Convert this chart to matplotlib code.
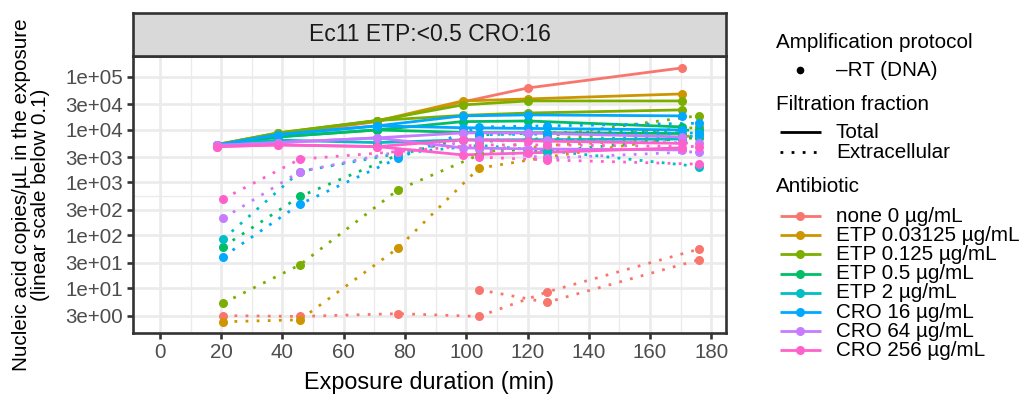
import numpy as np
import matplotlib
matplotlib.use("Agg")
import matplotlib.pyplot as plt
from matplotlib.lines import Line2D

plt.rcParams['font.family'] = ['Liberation Sans', 'DejaVu Sans']

nan = np.nan

# ---------------------------------------------------------------------------
# Data
antibiotics = ["none 0 µg/mL", "ETP 0.03125 µg/mL", "ETP 0.125 µg/mL", "ETP 0.5 µg/mL",
               "ETP 2 µg/mL", "CRO 16 µg/mL", "CRO 64 µg/mL", "CRO 256 µg/mL"]
colors = ["#F8766D", "#CD9600", "#7CAE00", "#00BE67", "#00BFC4", "#00A9FF", "#C77CFF", "#FF61CC"]

time_total = [18.7, 38.5, 70.9, 98.8, 120.1, 170.3]
time_extra = [20.7, 45.7, 77.7, 104.1, 126.3, 176.0]

# Total fraction, two replicate series per antibiotic
total_rep1 = [
    [5100, 8000, 14100, 33200, 61100, 146000],
    [5100, 8300, 14500, 34700, 37900, 47100],
    [5200, 8600, 14800, 29200, 34700, 34700],
    [4900, 7250, 9820, 14100, 14500, 11200],
    [4900, 6300, 5650, 6360, 6400, 6600],
    [5100, 8000, 11700, 18100, 18900, 18100],
    [5000, 5650, 6940, 8620, 8620, 7250],
    [4750, 5110, 4750, 6360, 6100, 5460],
]
total_rep2 = [
    [nan, nan, nan, nan, nan, nan],
    [nan, nan, nan, nan, nan, nan],
    [5200, 8600, 14800, 18500, 20500, 23500],
    [4900, 7250, 9820, 8800, 8700, 8400],
    [nan, nan, nan, nan, nan, nan],
    [5100, 8000, 11700, 10800, 10500, 9820],
    [5000, 5650, 6940, 4490, 4300, 4110],
    [4750, 5110, 4750, 3310, 3600, 4500],
]

# Extracellular fraction, two replicate series per antibiotic
extra_rep1 = [
    [3.0, 2.9, 3.27, 2.9, 8.4, 54.6],
    [2.3, 2.5, 57.0, 1850, 3000, 8000],
    [5.2, 27.5, 721, 3300, 7500, 18300],
    [61, 540, 3300, 7900, 8620, 9820],
    [85, 1600, 3500, 5000, 4000, 1990],
    [39.5, 387, 2870, 11200, 11700, 13150],
    [210, 1600, 3800, 6360, 6360, 5500],
    [488, 2750, 3820, 5110, 5110, 4750],
]
extra_rep2 = [
    [nan, nan, nan, 9.3, 5.35, 34.3],
    [nan, nan, nan, 3310, 5000, 7000],
    [nan, nan, nan, 6000, 6500, 11000],
    [nan, nan, nan, 4500, 3820, 7250],
    [nan, nan, nan, 6000, 6360, 7500],
    [nan, nan, nan, 8000, 8200, 8600],
    [nan, nan, nan, 4200, 2870, 3820],
    [nan, nan, nan, 3000, 2660, 2210],
]

y_breaks = [3, 10, 30, 100, 300, 1e3, 3e3, 1e4, 3e4, 1e5]
y_labels = ["3e+00", "1e+01", "3e+01", "1e+02", "3e+02", "1e+03", "3e+03", "1e+04", "3e+04", "1e+05"]
x_breaks = list(range(0, 181, 20))


# pseudo-log transform, linear below 0.1
def fwd(v):
    return np.arcsinh(np.asarray(v, dtype=float) / 0.2) / np.log(10)


def inv(t):
    return 0.2 * np.sinh(np.asarray(t, dtype=float) * np.log(10))


# ---------------------------------------------------------------------------
W, H = 1022, 400
fig = plt.figure(figsize=(W / 100, H / 100), dpi=100)
L, R, T, B = 133, 726, 56, 333
ax = fig.add_axes([L / W, 1 - B / H, (R - L) / W, (B - T) / H])
ax.set_yscale('function', functions=(fwd, inv))

lw = 2.0
for i, c in enumerate(colors):
    for reps, times, ls in [((total_rep1, total_rep2), time_total, '-'),
                            ((extra_rep1, extra_rep2), time_extra, (0, (1, 3.0)))]:
        for rep in reps:
            y = np.array(rep[i], dtype=float)
            x = np.array(times, dtype=float)
            ok = ~np.isnan(y)
            ax.plot(x[ok], y[ok], color=c, lw=lw, ls=ls, dash_capstyle='butt',
                    solid_capstyle='butt', zorder=2 + i * 0.01)
            ax.plot(x[ok], y[ok], ls='none', marker='o', ms=6.5, mew=0,
                    color=c, zorder=3 + i * 0.01)

ax.set_xlim(-8.8, 184.8)
ax.set_ylim(inv(1.149), inv(6.391))
ax.set_xticks(x_breaks)
ax.set_xticks(list(range(10, 180, 20)), minor=True)
ax.set_yticks(y_breaks)
ax.set_yticklabels(y_labels)
ax.set_yticks([float(inv((fwd(300) + fwd(1000)) / 2))], minor=True)
ax.grid(which='major', color='#EBEBEB', lw=1.9, zorder=0)
ax.grid(which='minor', color='#EBEBEB', lw=0.95, zorder=0)
ax.set_axisbelow(True)
ax.tick_params(which='major', length=4.3, width=1.9, color='#333333',
               labelsize=14.8, labelcolor='#4D4D4D', pad=3)
ax.tick_params(which='minor', length=0)
for s in ax.spines.values():
    s.set_color('#333333')
    s.set_linewidth(1.9)

# facet strip
sax = fig.add_axes([L / W, 1 - T / H, (R - L) / W, (T - 13) / H])
sax.set_xticks([])
sax.set_yticks([])
sax.set_facecolor('#D9D9D9')
for s in sax.spines.values():
    s.set_color('#333333')
    s.set_linewidth(1.9)
sax.text(0.5, 0.5, "Ec11 ETP:<0.5 CRO:16", ha='center', va='center',
         fontsize=16.5, color='#1A1A1A', transform=sax.transAxes)

# axis titles
fig.text((L + R) / 2 / W, 1 - 383 / H, "Exposure duration (min)", ha='center', va='center',
         fontsize=16.8)
fig.text(31 / W, 1 - 195 / H, "Nucleic acid copies/µL in the exposure\n(linear scale below 0.1)",
         ha='center', va='center', rotation=90, fontsize=14.9, linespacing=1.0,
         multialignment='center')

# legend, drawn in pixel coordinates
lax = fig.add_axes([0, 0, 1, 1])
lax.set_xlim(0, W)
lax.set_ylim(H, 0)
lax.axis('off')
fs = 14.9
tx = 836
lax.text(776, 42, "Amplification protocol", fontsize=fs, va='center')
lax.plot([800], [70], 'o', color='black', ms=5.5, mew=0)
lax.text(tx, 70, "–RT (DNA)", fontsize=fs, va='center')
lax.text(776, 104, "Filtration fraction", fontsize=fs, va='center')
lax.add_line(Line2D([780, 821], [132, 132], color='black', lw=lw, solid_capstyle='butt'))
lax.text(tx, 132, "Total", fontsize=fs, va='center')
lax.add_line(Line2D([780, 821], [152, 152], color='black', lw=lw, ls=(0, (1, 3.0)),
                    dash_capstyle='butt'))
lax.text(tx, 152, "Extracellular", fontsize=fs, va='center')
lax.text(776, 187, "Antibiotic", fontsize=fs, va='center')
for i, (name, c) in enumerate(zip(antibiotics, colors)):
    yy = 216 + i * 19.2
    lax.add_line(Line2D([780, 821], [yy, yy], color=c, lw=lw, solid_capstyle='butt'))
    lax.plot([800], [yy], 'o', color=c, ms=6.5, mew=0)
    lax.text(tx, yy, name, fontsize=fs, va='center')

fig.savefig("out.png", dpi=100)
